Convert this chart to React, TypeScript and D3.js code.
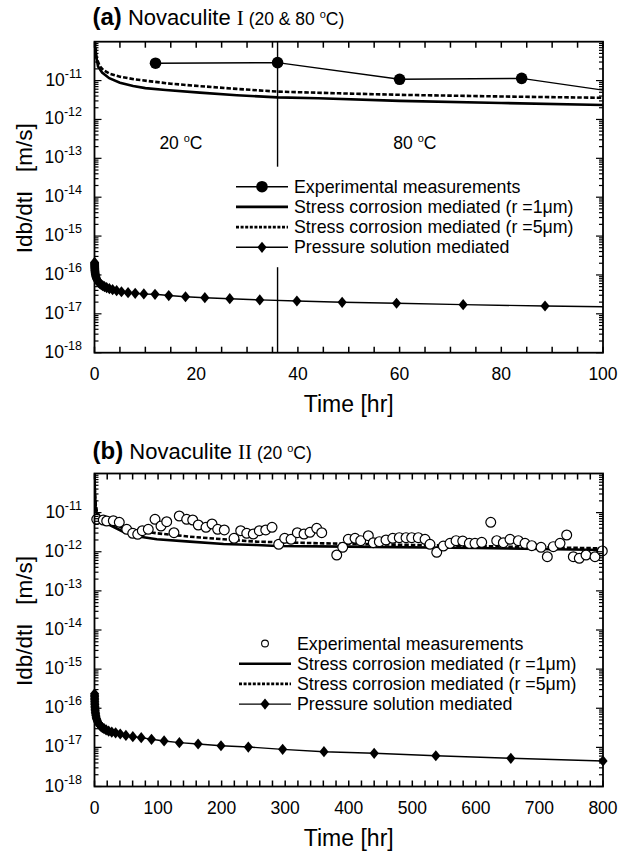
import React from "react";
import * as d3 from "d3";

// ---------- Panel (a) data: Novaculite I (20 & 80 °C) ----------
const aExpTime = [12, 36, 60, 84, 108];
const aExpRate = [2.8e-11, 2.9e-11, 1.08e-11, 1.14e-11, 4.0e-12];

const aSc1Time = [0.02, 0.1, 0.3, 0.7, 1.5, 2.9, 5, 7.6, 10, 14, 20.7, 28, 36, 44, 60, 80, 100];
const aSc1Rate = [1.5e-10, 8e-11, 4.5e-11, 2.3e-11, 1.6e-11, 1.15e-11, 8.8e-12, 7.25e-12, 6.4e-12, 5.7e-12, 4.9e-12, 4.2e-12, 3.7e-12, 3.5e-12, 3.0e-12, 2.65e-12, 2.35e-12];

const aSc5Time = [0.02, 0.1, 0.4, 1, 1.7, 3, 5, 8, 11.5, 15, 20.7, 28, 36, 48, 60, 80, 100];
const aSc5Rate = [1.5e-10, 9e-11, 3.8e-11, 2.4e-11, 1.87e-11, 1.5e-11, 1.26e-11, 1.07e-11, 9.4e-12, 8.3e-12, 7.2e-12, 6.1e-12, 5.2e-12, 4.7e-12, 4.3e-12, 3.9e-12, 3.6e-12];

const aPsTime = [0.016, 0.02, 0.025, 0.03, 0.037, 0.045, 0.055, 0.067, 0.08, 0.1, 0.12, 0.15, 0.18, 0.22, 0.27, 0.33, 0.4, 0.49, 0.59, 0.72, 0.88, 1.08, 1.32, 1.61, 1.96, 2.39, 2.92, 3.56, 4.35, 5.3, 6.6, 8, 9.7, 11.9, 14.6, 17.9, 21.7, 26.6, 32.5, 39.8, 48.7, 59.4, 72.5, 88.6, 108.1];
const aPsRate = [2.1e-16, 1.97e-16, 1.85e-16, 1.75e-16, 1.64e-16, 1.55e-16, 1.46e-16, 1.37e-16, 1.3e-16, 1.22e-16, 1.15e-16, 1.08e-16, 1.02e-16, 9.6e-17, 9.0e-17, 8.5e-17, 8.0e-17, 7.55e-17, 7.15e-17, 6.73e-17, 6.34e-17, 5.96e-17, 5.6e-17, 5.29e-17, 4.99e-17, 4.7e-17, 4.43e-17, 4.17e-17, 3.93e-17, 3.7e-17, 3.5e-17, 3.37e-17, 3.25e-17, 3.18e-17, 2.95e-17, 2.75e-17, 2.6e-17, 2.45e-17, 2.28e-17, 2.14e-17, 1.98e-17, 1.87e-17, 1.72e-17, 1.59e-17, 1.47e-17];

const aMarkerTime = 36; // boundary between 20 °C and 80 °C

// ---------- Panel (b) data: Novaculite II (20 °C) ----------
const bExpTime = [3.5, 13.8, 19.2, 29.6, 39, 50.7, 60.1, 68, 75.2, 84.6, 95.2, 104.6, 113.6, 125, 133.4, 145, 154.5, 163.3, 175.4, 184.9, 193.8, 204.2, 219.5, 230, 239.5, 249.8, 259.3, 269.4, 279.3, 289.8, 299.2, 309.2, 319.1, 329.6, 339, 349.6, 357.5, 381.1, 390.5, 399.3, 409.9, 418.8, 430.8, 438.6, 448.1, 458.6, 469.2, 479.5, 490.1, 499, 509.4, 520, 527.8, 538.4, 548.8, 559.3, 568.8, 579.3, 589.7, 598.6, 609.2, 623.4, 632.8, 643.2, 653.7, 666.8, 677.3, 687.9, 702.5, 712.4, 721.8, 732.4, 742.9, 753.3, 762.7, 773.3, 787.4, 798.9];
const bExpRate = [6.75e-12, 6.48e-12, 6.11e-12, 6.22e-12, 5.66e-12, 3.75e-12, 2.96e-12, 2.79e-12, 3.45e-12, 3.75e-12, 6.75e-12, 4.55e-12, 5.86e-12, 3.07e-12, 8.2e-12, 6.75e-12, 6.48e-12, 4.83e-12, 4.22e-12, 5.12e-12, 3.75e-12, 3.6e-12, 2.21e-12, 3.45e-12, 2.96e-12, 2.84e-12, 3.45e-12, 3.6e-12, 4.22e-12, 1.55e-12, 2.21e-12, 2.08e-12, 3.07e-12, 2.84e-12, 3.14e-12, 3.97e-12, 3.07e-12, 8.26e-13, 1.3e-12, 2.08e-12, 2.21e-12, 1.92e-12, 2.57e-12, 1.7e-12, 1.81e-12, 2.0e-12, 2.21e-12, 2.29e-12, 2.29e-12, 2.29e-12, 2.29e-12, 2.08e-12, 1.55e-12, 9.7e-13, 1.4e-12, 1.64e-12, 1.92e-12, 1.88e-12, 1.64e-12, 1.64e-12, 1.74e-12, 5.66e-12, 1.92e-12, 1.7e-12, 2.08e-12, 1.92e-12, 1.64e-12, 1.43e-12, 1.3e-12, 7.47e-13, 1.35e-12, 1.64e-12, 2.68e-12, 7.47e-13, 6.8e-13, 8.26e-13, 7.47e-13, 1.05e-12];

const bSc1Time = [0.03, 0.15, 0.5, 1, 2, 3.5, 8, 15, 24, 45, 72, 98, 150, 203, 255, 287, 397, 600, 800];
const bSc1Rate = [2e-10, 8e-11, 3.8e-11, 2.4e-11, 1.4e-11, 9.6e-12, 7e-12, 5.8e-12, 4.83e-12, 3.25e-12, 2.43e-12, 2.08e-12, 1.81e-12, 1.58e-12, 1.49e-12, 1.4e-12, 1.35e-12, 1.25e-12, 1.11e-12];

const bSc5Time = [0.03, 0.15, 0.5, 1, 2, 3.5, 8, 15, 24, 45, 98, 150, 203, 255, 360, 500, 800];
const bSc5Rate = [2e-10, 9e-11, 4.2e-11, 2.7e-11, 1.6e-11, 1.1e-11, 8e-12, 6.5e-12, 5.5e-12, 3.98e-12, 2.96e-12, 2.43e-12, 2.08e-12, 1.81e-12, 1.64e-12, 1.49e-12, 1.22e-12];

const bPsTime = [0.127, 0.155, 0.19, 0.23, 0.28, 0.34, 0.42, 0.51, 0.62, 0.76, 0.93, 1.13, 1.38, 1.68, 2.05, 2.5, 3.06, 3.73, 4.55, 5.55, 6.77, 8.26, 10.1, 12.3, 15, 18.3, 22.3, 27.2, 33.2, 40.5, 49.4, 60.3, 73.5, 89.7, 109.5, 133.5, 163, 199, 242, 296, 361, 440, 537, 655, 800];
const bPsRate = [2.35e-16, 2.15e-16, 1.97e-16, 1.8e-16, 1.65e-16, 1.5e-16, 1.36e-16, 1.24e-16, 1.13e-16, 1.03e-16, 9.4e-17, 8.6e-17, 7.9e-17, 7.2e-17, 6.6e-17, 6.0e-17, 5.5e-17, 5.1e-17, 4.7e-17, 4.3e-17, 4.0e-17, 3.7e-17, 3.45e-17, 3.2e-17, 3.0e-17, 2.8e-17, 2.6e-17, 2.45e-17, 2.35e-17, 2.2e-17, 2.02e-17, 1.88e-17, 1.77e-17, 1.61e-17, 1.46e-17, 1.32e-17, 1.22e-17, 1.1e-17, 1.02e-17, 8.9e-18, 7.76e-18, 7.05e-18, 6.1e-18, 5.25e-18, 4.5e-18];

// ---------- shared axis / legend text ----------
const yDecades = [-18, -17, -16, -15, -14, -13, -12, -11];
const yDomain = [1e-18, 1e-10];
const legendLabels = [
  "Experimental measurements",
  "Stress corrosion mediated (r =1\u03bcm)",
  "Stress corrosion mediated (r =5\u03bcm)",
  "Pressure solution mediated",
];
const yTitle = "Idb/dtI   [m/s]";
const xTitle = "Time [hr]";

const SANS = "'Liberation Sans', Arial, Helvetica, sans-serif";
const SERIF = "'Liberation Serif', 'Times New Roman', serif";

type Series = { t: number[]; v: number[] };

type PanelCfg = {
  id: string;
  letter: string;
  roman: string;
  cond: React.ReactNode;
  x0: number; x1: number; y0: number; y1: number;
  xMax: number; xTickStep: number; xLabelStep: number;
  exp: Series; sc1: Series; sc5: Series; ps: Series;
  expFilled: boolean;
  legendX: number; legendY: number; legendTextX: number;
  legendBg: boolean;
  vline?: number;
  tempLabels?: { t: number; label: string }[];
  titleY: number;
};

function Panel({ c }: { c: PanelCfg }) {
  const x = d3.scaleLinear().domain([0, c.xMax]).range([c.x0, c.x1]);
  const y = d3.scaleLog().domain(yDomain).range([c.y1, c.y0]);
  const mk = (s: Series) =>
    d3
      .line<number>()
      .x((_, i) => x(s.t[i]))
      .y((_, i) => y(s.v[i]))(s.t) || "";

  const inX = (t: number) => t >= 0 && t <= c.xMax + 1e-9;

  const xTicks = d3.range(0, c.xMax + 1e-9, c.xTickStep);
  const xLabels = d3.range(0, c.xMax + 1e-9, c.xLabelStep);
  const minor: { v: number; major: boolean }[] = [];
  yDecades.forEach((e) => {
    d3.range(1, 10).forEach((m) => {
      minor.push({ v: m * Math.pow(10, e), major: m === 1 });
    });
  });

  const diamond = (px: number, py: number, w = 4.6, h = 5.6) =>
    `M${px},${py - h}L${px + w},${py}L${px},${py + h}L${px - w},${py}Z`;

  const clipId = `clip-${c.id}`;
  const axisW = 1.8;
  const tickMajor = 7;
  const tickMinor = 4;
  const tickX = 6;
  const midY = (c.y0 + c.y1) / 2;

  return (
    <g>
      <defs>
        <clipPath id={clipId}>
          <rect x={c.x0} y={c.y0} width={c.x1 - c.x0} height={c.y1 - c.y0} />
        </clipPath>
      </defs>

      {/* title */}
      <text x={c.x0 - 2} y={c.titleY} fontFamily={SANS} fill="#000">
        <tspan fontWeight="bold" fontSize={24}>{c.letter}</tspan>
        <tspan fontSize={22}> Novaculite </tspan>
        <tspan fontFamily={SERIF} fontSize={21}>{c.roman}</tspan>
        {c.cond}
      </text>

      {/* series */}
      <g clipPath={`url(#${clipId})`}>
        {c.vline !== undefined && (
          <line x1={x(c.vline)} x2={x(c.vline)} y1={c.y0} y2={c.y1} stroke="#000" strokeWidth={1.4} />
        )}
        <path d={mk(c.sc5)} fill="none" stroke="#000" strokeWidth={2.6} strokeDasharray="4.5 2" />
        <path d={mk(c.sc1)} fill="none" stroke="#000" strokeWidth={2.6} />
        <path d={mk(c.ps)} fill="none" stroke="#000" strokeWidth={1.4} />
        {c.expFilled && <path d={mk(c.exp)} fill="none" stroke="#000" strokeWidth={1.4} />}
      </g>

      {/* markers */}
      {c.ps.t.map((t, i) =>
        inX(t) ? <path key={`ps${i}`} d={diamond(x(t), y(c.ps.v[i]))} fill="#000" /> : null
      )}
      {c.exp.t.map((t, i) =>
        inX(t) ? (
          c.expFilled ? (
            <circle key={`e${i}`} cx={x(t)} cy={y(c.exp.v[i])} r={5.8} fill="#000" />
          ) : (
            <circle key={`e${i}`} cx={x(t)} cy={y(c.exp.v[i])} r={4.9} fill="#fff" stroke="#000" strokeWidth={1.2} />
          )
        ) : null
      )}

      {/* temperature labels */}
      {c.tempLabels &&
        c.tempLabels.map((tl, i) => (
          <text key={`tl${i}`} x={x(tl.t)} y={149} textAnchor="middle" fontFamily={SANS} fontSize={17.5}>
            {tl.label}
            <tspan fontSize={11} dy={-7}>o</tspan>
            <tspan dy={7}>C</tspan>
          </text>
        ))}

      {/* legend */}
      {c.legendBg && (
        <rect x={c.legendX - 8} y={c.legendY - 20} width={350} height={100.5} fill="#fff" />
      )}
      {legendLabels.map((lab, i) => {
        const ly = c.legendY + i * 20.2;
        const lx0 = c.legendX;
        const lx1 = c.legendX + 52;
        const lm = (lx0 + lx1) / 2;
        let sym: React.ReactNode = null;
        if (i === 0) {
          sym = c.expFilled ? (
            <g>
              <line x1={lx0} x2={lx1} y1={ly} y2={ly} stroke="#000" strokeWidth={1.4} />
              <circle cx={lm} cy={ly} r={5.8} fill="#000" />
            </g>
          ) : (
            <circle cx={lm} cy={ly} r={3.4} fill="#fff" stroke="#000" strokeWidth={1.1} />
          );
        } else if (i === 1) {
          sym = <line x1={lx0} x2={lx1} y1={ly} y2={ly} stroke="#000" strokeWidth={2.6} />;
        } else if (i === 2) {
          sym = <line x1={lx0} x2={lx1} y1={ly} y2={ly} stroke="#000" strokeWidth={2.6} strokeDasharray="3 1.6" />;
        } else {
          sym = (
            <g>
              <line x1={lx0} x2={lx1} y1={ly} y2={ly} stroke="#000" strokeWidth={1.4} />
              <path d={diamond(lm, ly)} fill="#000" />
            </g>
          );
        }
        return (
          <g key={`lg${i}`}>
            {sym}
            <text x={c.legendTextX} y={ly + 6} fontFamily={SANS} fontSize={17.8}>
              {lab}
            </text>
          </g>
        );
      })}

      {/* frame */}
      <rect x={c.x0} y={c.y0} width={c.x1 - c.x0} height={c.y1 - c.y0} fill="none" stroke="#000" strokeWidth={axisW} />

      {/* x ticks (bottom + top, inward) */}
      {xTicks.map((t, i) => (
        <g key={`xt${i}`}>
          <line x1={x(t)} x2={x(t)} y1={c.y1} y2={c.y1 - tickX} stroke="#000" strokeWidth={1.5} />
          <line x1={x(t)} x2={x(t)} y1={c.y0} y2={c.y0 + tickX} stroke="#000" strokeWidth={1.5} />
        </g>
      ))}
      {xLabels.map((t, i) => (
        <text key={`xl${i}`} x={x(t)} y={c.y1 + 27} textAnchor="middle" fontFamily={SANS} fontSize={17.5}>
          {t}
        </text>
      ))}

      {/* y ticks (left + right, inward) */}
      {minor.map((m, i) => {
        const len = m.major ? tickMajor : tickMinor;
        const yy = y(m.v);
        return (
          <g key={`yt${i}`}>
            <line x1={c.x0} x2={c.x0 + len} y1={yy} y2={yy} stroke="#000" strokeWidth={1.2} />
            <line x1={c.x1} x2={c.x1 - len} y1={yy} y2={yy} stroke="#000" strokeWidth={1.2} />
          </g>
        );
      })}
      {yDecades.map((e, i) => (
        <text key={`yl${i}`} x={82} y={y(Math.pow(10, e)) + 5} textAnchor="end" fontFamily={SANS} fontSize={17.5}>
          <tspan>10</tspan>
          <tspan fontSize={12.5} dy={-8}>{`${e}`}</tspan>
        </text>
      ))}

      {/* axis titles */}
      <text x={(c.x0 + c.x1) / 2} y={c.y1 + 59} textAnchor="middle" fontFamily={SANS} fontSize={23}>
        {xTitle}
      </text>
      <text
        transform={`translate(${32},${midY - 9}) rotate(-90)`}
        textAnchor="middle"
        fontFamily={SANS}
        fontSize={22.5}
        style={{ whiteSpace: "pre" }}
      >
        {yTitle}
      </text>
    </g>
  );
}

export default function App() {
  const panelA: PanelCfg = {
    id: "a",
    letter: "(a)",
    roman: "I",
    cond: (
      <>
        <tspan fontSize={17.5}> (20 &amp; 80 </tspan>
        <tspan fontSize={11} dy={-7}>o</tspan>
        <tspan fontSize={17.5} dy={7}>C)</tspan>
      </>
    ),
    x0: 94.5, x1: 603, y0: 41.7, y1: 352.7,
    xMax: 100, xTickStep: 5, xLabelStep: 20,
    exp: { t: aExpTime, v: aExpRate },
    sc1: { t: aSc1Time, v: aSc1Rate },
    sc5: { t: aSc5Time, v: aSc5Rate },
    ps: { t: aPsTime, v: aPsRate },
    expFilled: true,
    legendX: 236, legendY: 186.7, legendTextX: 294,
    legendBg: true,
    vline: aMarkerTime,
    tempLabels: [
      { t: 17, label: "20 " },
      { t: 63, label: "80 " },
    ],
    titleY: 25,
  };
  const panelB: PanelCfg = {
    id: "b",
    letter: "(b)",
    roman: "II",
    cond: (
      <>
        <tspan fontSize={17.5}> (20 </tspan>
        <tspan fontSize={11} dy={-7}>o</tspan>
        <tspan fontSize={17.5} dy={7}>C)</tspan>
      </>
    ),
    x0: 94.5, x1: 603, y0: 473.5, y1: 786.5,
    xMax: 800, xTickStep: 20, xLabelStep: 100,
    exp: { t: bExpTime, v: bExpRate },
    sc1: { t: bSc1Time, v: bSc1Rate },
    sc5: { t: bSc5Time, v: bSc5Rate },
    ps: { t: bPsTime, v: bPsRate },
    expFilled: false,
    legendX: 239, legendY: 643.5, legendTextX: 297,
    legendBg: false,
    titleY: 459,
  };
  return (
    <svg
      width={619}
      height={855}
      viewBox="0 0 619 855"
      style={{ position: "absolute", left: 0, top: 0, background: "#fff" }}
    >
      <rect x={0} y={0} width={619} height={855} fill="#fff" />
      <Panel c={panelA} />
      <Panel c={panelB} />
    </svg>
  );
}
